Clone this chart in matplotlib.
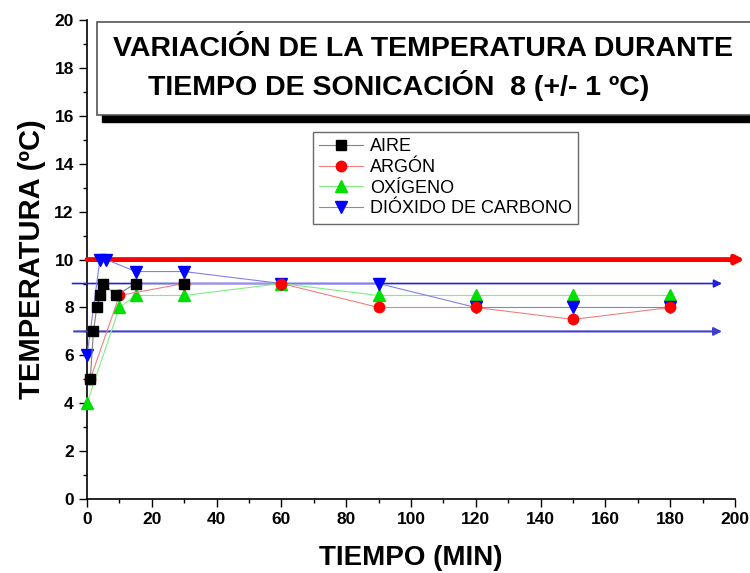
import matplotlib
matplotlib.use("Agg")
import matplotlib.pyplot as plt
from matplotlib.patches import Rectangle

plt.rcParams['font.family'] = ['Liberation Sans', 'DejaVu Sans']

# datos
t_aire = [1, 2, 3, 4, 5, 9, 15, 30]
T_aire = [5, 7, 8, 8.5, 9, 8.5, 9, 9]

t_argon = [1, 10, 30, 60, 90, 120, 150, 180]
T_argon = [5, 8.5, 9, 9, 8, 8, 7.5, 8]

t_oxig = [0, 10, 15, 30, 60, 90, 120, 150, 180]
T_oxig = [4, 8, 8.5, 8.5, 9, 8.5, 8.5, 8.5, 8.5]

t_co2 = [0, 4, 6, 15, 30, 60, 90, 120, 150, 180]
T_co2 = [6, 10, 10, 9.5, 9.5, 9, 9, 8, 8, 8]

# lineas de referencia 8 (+/- 1 ºC)
ref_T = [10, 9, 7]
ref_x0 = [0, -4.5, -4]
ref_x1 = [203, 196, 196]
ref_col = ['#ff0000', '#2020dd', '#4040cc']
ref_lw = [3.5, 1.2, 1.5]

fig = plt.figure(figsize=(7.5, 5.73), dpi=100)
ax = fig.add_axes([0.116, 0.129, 0.864, 0.836])

for y, x0, x1, c, lw in zip(ref_T, ref_x0, ref_x1, ref_col, ref_lw):
    ax.annotate('', xy=(x1, y), xytext=(x0, y), annotation_clip=False,
                arrowprops=dict(arrowstyle='-|>', color=c, lw=lw,
                                shrinkA=0, shrinkB=0, mutation_scale=12))

ax.plot(t_aire, T_aire, '-s', color='#808080', lw=0.8, mfc='black', mec='black',
        ms=7, label='AIRE', clip_on=False, zorder=5)
ax.plot(t_argon, T_argon, '-o', color='#f08080', lw=0.8, mfc='red', mec='red',
        ms=7.5, label='ARGÓN', clip_on=False, zorder=4)
ax.plot(t_oxig, T_oxig, '-^', color='#80ee80', lw=0.8, mfc='#00e000', mec='#00e000',
        ms=8, label='OXÍGENO', clip_on=False, zorder=3)
ax.plot(t_co2, T_co2, '-v', color='#8080ee', lw=0.8, mfc='#0000ff', mec='#0000ff',
        ms=8, label='DIÓXIDO DE CARBONO', clip_on=False, zorder=3)

ax.set_xlim(0, 200)
ax.set_ylim(0, 20)
ax.set_xticks(range(0, 201, 20))
ax.set_xticks(range(0, 201, 10), minor=True)
ax.set_yticks(range(0, 21, 2))
ax.set_yticks(range(0, 21, 1), minor=True)
ax.spines['top'].set_visible(False)
ax.spines['right'].set_visible(False)
ax.spines['left'].set_linewidth(1.2)
ax.spines['bottom'].set_linewidth(1.2)
ax.tick_params(which='major', direction='out', length=6, width=1, labelsize=12.5)
ax.tick_params(which='minor', direction='out', length=3, width=1)
for lab in ax.get_xticklabels() + ax.get_yticklabels():
    lab.set_fontweight('bold')

ax.set_xlabel('TIEMPO (MIN)', fontsize=20, fontweight='bold', labelpad=13)
ax.set_ylabel('TEMPERATURA (ºC)', fontsize=21, fontweight='bold', labelpad=6)

leg = ax.legend(loc='upper left', bbox_to_anchor=(0.349, 0.766), borderaxespad=0,
                fontsize=13, frameon=True, fancybox=False, handlelength=2.4,
                borderpad=0.35, labelspacing=0.2, handletextpad=0.4)
leg.get_frame().set_edgecolor('#444444')
leg.get_frame().set_linewidth(1)

# cuadro del titulo con sombra
fig.patches.append(Rectangle((0.136, 0.787), 0.9, 0.17, transform=fig.transFigure,
                             facecolor='black', edgecolor='black', zorder=1))
fig.patches.append(Rectangle((0.129, 0.799), 0.9, 0.163, transform=fig.transFigure,
                             facecolor='white', edgecolor='#555555', lw=1.2, zorder=2))
fig.text(0.151, 0.915, 'VARIACIÓN DE LA TEMPERATURA DURANTE', fontsize=20.5,
         fontweight='bold', va='center', ha='left', zorder=3)
fig.text(0.197, 0.851, 'TIEMPO DE SONICACIÓN  8 (+/- 1 ºC)', fontsize=20.5,
         fontweight='bold', va='center', ha='left', zorder=3)

plt.savefig('out.png', dpi=100)
